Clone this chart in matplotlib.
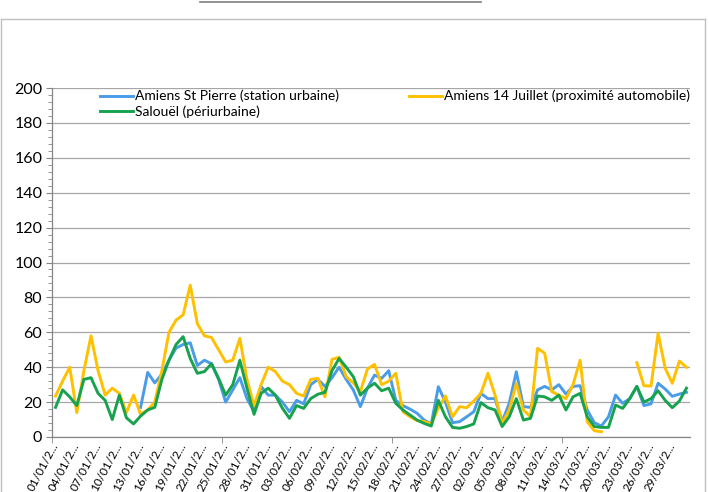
import matplotlib
matplotlib.use("Agg")
import matplotlib.pyplot as plt
from matplotlib.lines import Line2D
from matplotlib.ticker import MultipleLocator, FixedLocator
import numpy as np

plt.rcParams["font.family"] = ["Lato", "DejaVu Sans"]

nan = np.nan

# daily values, 01/01 -> 31/03 (90 days)
st_pierre = [
    nan, nan, nan, nan, nan, nan, nan, nan, nan, nan, nan, nan,
    17, 37, 31, 36, 44, 51, 53, 54, 41, 44, 42, 33, 20, 27, 34, 22, 14.5, 29,
    24, 24, 20, 14.5, 21, 19, 30, 33, 29, 34, 40, 33, 27, 17.4, 28, 35.5, 33.6, 38, 21, 18,
    16, 13.6, 9.7, 7.5, 28.8, 20, 8.2, 8.8, 11.6, 14.5, 25, 22, 22, 8.8, 19.3, 37.4, 17.4, 17, 27, 29,
    27, 30, 24.6, 29, 29.4, 15.5, 8.2, 6.3, 11.6, 24, 19.3, 22, 29, 18, 19, 30.8, 27.5, 23.3, 24.6, 25.6,
]
quatorze_juillet = [
    23.5, 32, 40, 14, 38, 58, 38, 24, 28, 25, 14, 24, 13, 15.5, 20, 38, 60, 67, 70, 87,
    65, 58, 57, 50, 43, 44, 56.5, 33, 18, 30, 40, 37.5, 32, 30, 25, 23.5, 33, 33.6, 23, 44.5,
    45.7, 34.6, 31, 26, 39, 41.6, 30, 32, 36.5, 14.5, 11.6, 9.4, 8.8, 7.5, 16.4, 23.5, 11.6, 17.4, 16.8, 20.6,
    25, 36.5, 24, 7.8, 15.5, 30.8, 15.5, 11.6, 50.8, 48, 26, 24, 22, 30, 44, 8.8, 3.6, 3, nan, nan,
    nan, nan, 42.6, 29.4, 29.2, 59.4, 39.4, 30.8, 43.5, 40,
]
salouel = [
    17, 27, 23, 18, 33, 34, 25, 21, 10, 24, 11, 7.5, 12, 15.5, 17, 33, 44, 53, 57.5, 45,
    36.5, 37.5, 42, 33.6, 24, 30, 44, 28, 13, 25, 28, 24, 16.5, 10.7, 18, 16.4, 22, 24.5, 25.6, 38,
    45, 40, 34.6, 24, 28, 30.8, 26.5, 28, 19.3, 15.5, 12.6, 9.7, 7.8, 6.3, 21, 11.6, 5.5, 5, 6, 7.5,
    19.7, 16.8, 15.5, 6, 11.6, 22, 9.7, 10.7, 23.5, 23, 21, 24, 15.5, 23, 25, 11.6, 6, 5.5, 5.5, 18.3,
    16.4, 22, 29, 20, 22, 26.5, 21, 16.8, 20.6, 28,
]
date_labels = [
    "01/01/2...", "04/01/2...", "07/01/2...", "10/01/2...", "13/01/2...", "16/01/2...",
    "19/01/2...", "22/01/2...", "25/01/2...", "28/01/2...", "31/01/2...", "03/02/2...",
    "06/02/2...", "09/02/2...", "12/02/2...", "15/02/2...", "18/02/2...", "21/02/2...",
    "24/02/2...", "27/02/2...", "02/03/2...", "05/03/2...", "08/03/2...", "11/03/2...",
    "14/03/2...", "17/03/2...", "20/03/2...", "23/03/2...", "26/03/2...", "29/03/2...",
]

W, H = 709, 492
fig = plt.figure(figsize=(W / 100, H / 100), dpi=100)
ax = fig.add_axes([52 / W, 1 - 437 / H, (690 - 52) / W, (437 - 88) / H])

x = np.arange(len(salouel))
ax.plot(x, st_pierre, color="#4A9BE8", lw=2.1, label="Amiens St Pierre (station urbaine)")
ax.plot(x, quatorze_juillet, color="#FFC000", lw=2.1, label="Amiens 14 Juillet (proximité automobile)")
ax.plot(x, salouel, color="#17A24E", lw=2.1, label="Salouël (périurbaine)")

ax.set_xlim(-0.5, len(x) - 0.5)
ax.set_ylim(0, 200)
ax.yaxis.set_major_locator(MultipleLocator(20))
ax.yaxis.set_minor_locator(MultipleLocator(4))
ax.grid(True, axis="y", color="#A6A6A6", lw=0.9)
ax.set_axisbelow(True)

ax.set_xticks(x[::3])
ax.set_xticklabels(date_labels, rotation=62, ha="right", va="center",
                   rotation_mode="anchor", fontsize=8.5)
ax.xaxis.set_minor_locator(FixedLocator([-0.5, 23.5, 47.5, 71.5]))
ax.tick_params(axis="x", which="major", length=0, pad=5)
ax.tick_params(axis="x", which="minor", length=4, color="#868686")
ax.tick_params(axis="y", which="major", length=4, color="#868686", labelsize=11.5, pad=3)
ax.tick_params(axis="y", which="minor", length=3, color="#868686")

for s in ["top", "right"]:
    ax.spines[s].set_visible(False)
for s in ["left", "bottom"]:
    ax.spines[s].set_color("#868686")
    ax.spines[s].set_linewidth(0.9)

h, l = ax.get_legend_handles_labels()
order = [0, 2, 1]
fig.legend([h[i] for i in order], [l[i] for i in order], ncol=2, frameon=False,
           loc="upper left", bbox_to_anchor=(93 / W, 1 - 83 / H), fontsize=10,
           borderpad=0, handlelength=2.4, handletextpad=0.15, columnspacing=5.0,
           labelspacing=0.2)

# chart frame and line above it
fig.add_artist(Line2D([1 / W, 705 / W], [1 - 19 / H, 1 - 19 / H], color="#BFBFBF", lw=1))
fig.add_artist(Line2D([1 / W, 1 / W], [0, 1 - 19 / H], color="#BFBFBF", lw=1))
fig.add_artist(Line2D([705 / W, 705 / W], [0, 1 - 19 / H], color="#BFBFBF", lw=1))
fig.add_artist(Line2D([200 / W, 481 / W], [1 - 2 / H, 1 - 2 / H], color="#7F7F7F", lw=1.2))

plt.savefig("out.png", dpi=100)
plt.close()
